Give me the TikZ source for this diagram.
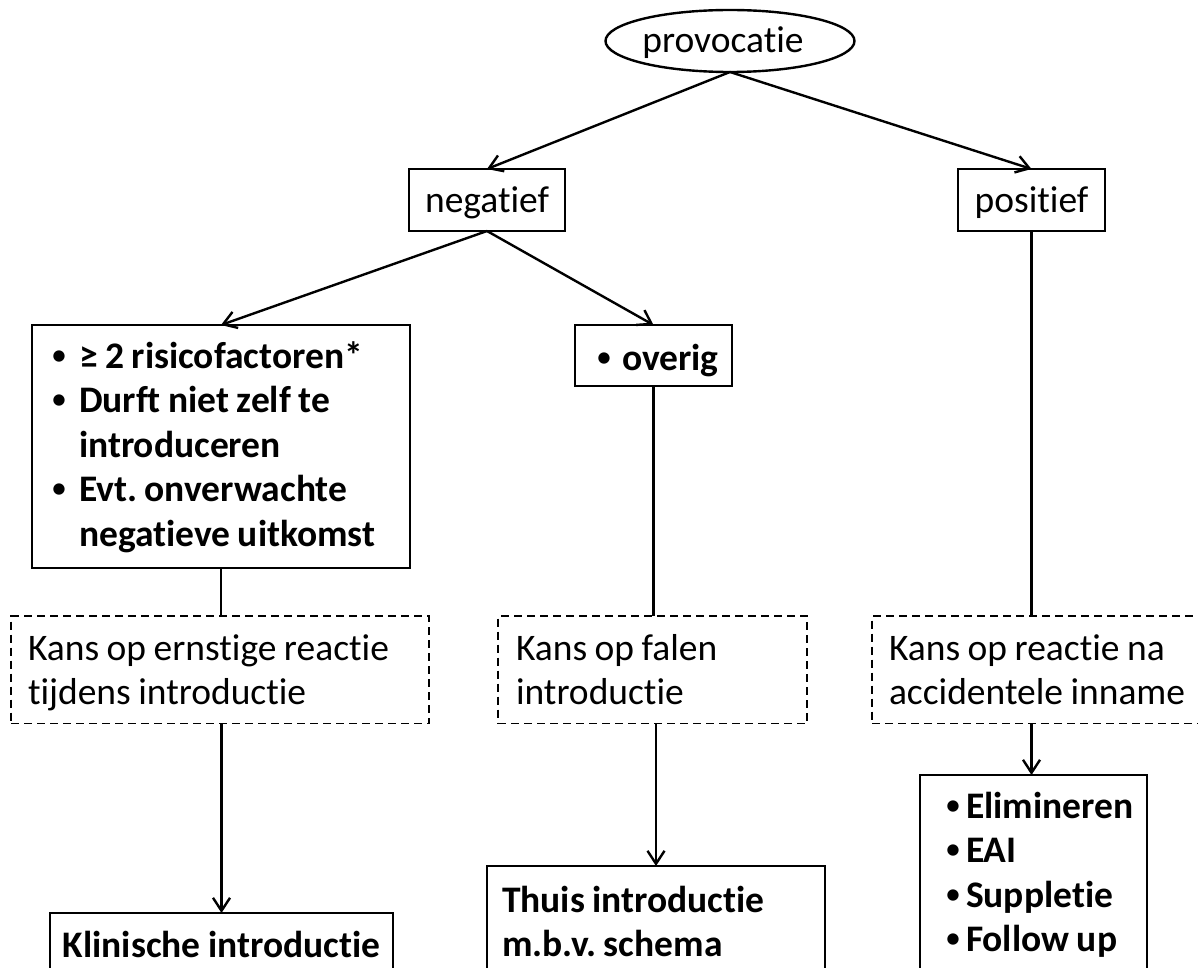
\documentclass[tikz,border=0pt]{standalone}
\usepackage{fontspec}
\setmainfont{Carlito}[Ligatures=NoCommon]
\usetikzlibrary{arrows.meta,shapes.geometric}
\newcommand{\bul}[1]{\makebox[#1][l]{\raisebox{3pt}{\fontsize{32}{32}\selectfont\mdseries •}}}
\newcommand{\topstrut}[1]{\spaceskip 7.5pt\relax\xspaceskip 7.5pt\relax\rule{0pt}{#1}}
\newcommand{\botstrut}[1]{\rule[-#1]{0pt}{#1}}
\frenchspacing
\begin{document}
\frenchspacing
\begin{tikzpicture}[x=1pt,y=-1pt,
  every node/.style={font=\fontsize{37.5}{44.5}\selectfont, inner sep=0pt, outer sep=0pt},
  boldtext/.style={font=\fontsize{37.5}{44.5}\selectfont\bfseries},
  solidbox/.style={draw, line width=2.4pt, anchor=north west},
  dashbox/.style={draw, line width=1.8pt, dash pattern=on 8pt off 5pt, anchor=north west},
  conn/.style={line width=2.4pt},
  arr/.style={line width=2.4pt, -{Straight Barb[length=13pt,width=17pt]}},
]
\useasboundingbox (0,0) rectangle (1198,968);
\clip (0,0) rectangle (1198,968);
\fill[white] (0,0) rectangle (1198,968);

% top
\node[draw, ellipse, line width=2.4pt, minimum width=249pt, minimum height=62pt,
      text height=26pt, text depth=2pt] (prov) at (730,41) {provocatie\hspace*{14pt}};

\node[solidbox, minimum width=156pt, text height=44pt, text depth=18pt] (neg) at (409,169) {negatief};
\node[solidbox, minimum width=147pt, text height=44pt, text depth=18pt] (pos) at (958,169) {positief};

% second level
\node[solidbox, boldtext, inner xsep=19pt, text width=340pt, align=left] (lb) at (32,325)
  {\topstrut{43pt}\mbox{\bul{28pt}≥ 2 risicofactoren*}\\
   \mbox{\bul{28pt}Durft niet zelf te}\\
   \mbox{\hspace*{28pt}introduceren}\\
   \mbox{\bul{28pt}Evt. onverwachte}\\
   \mbox{\hspace*{28pt}negatieve uitkomst}\botstrut{22pt}};

\node[solidbox, boldtext, inner xsep=21pt, text width=115pt, align=left] (ovr) at (575,325)
  {\topstrut{45pt}\mbox{\bul{26pt}overig}\botstrut{16pt}};

% dashed boxes
\node[dashbox, inner xsep=17pt, text width=384pt, align=left] (dl) at (11,616)
  {\topstrut{44pt}\mbox{Kans op ernstige reactie}\\\mbox{tijdens introductie}\botstrut{19pt}};
\node[dashbox, inner xsep=18pt, text width=273pt, align=left] (dm) at (498,616)
  {\topstrut{44pt}\mbox{Kans op falen}\\\mbox{introductie}\botstrut{19pt}};
\node[dashbox, inner xsep=17pt, text width=326pt, align=left] (dr) at (872,616)
  {\topstrut{44pt}\mbox{Kans op reactie na}\\\mbox{accidentele inname}\botstrut{19pt}};

% bottom boxes
\node[solidbox, boldtext, text width=343pt, align=center] (kl) at (50,913)
  {\topstrut{44pt}\mbox{Klinische introductie}\botstrut{22pt}};
\node[solidbox, boldtext, inner xsep=15pt, text width=308pt, align=left] (th) at (487,866)
  {\topstrut{46pt}\mbox{Thuis introductie}\\\mbox{m.b.v. schema}\botstrut{22pt}};
\node[solidbox, boldtext, inner xsep=25pt, text width=177pt, align=left] (rb) at (920,775)
  {\topstrut{43pt}\mbox{\bul{21pt}Elimineren}\\
   \mbox{\bul{21pt}EAI}\\
   \mbox{\bul{21pt}Suppletie}\\
   \mbox{\bul{21pt}Follow up}\botstrut{22pt}};

% connectors
\draw[arr] (prov.south) -- (neg.north);
\draw[arr] (prov.south) -- (pos.north);
\draw[arr] (neg.south) -- (lb.north);
\draw[arr] (neg.south) -- (ovr.north);
\draw[conn] (lb.south) -- (lb.south |- dl.north);
\draw[conn] (ovr.south) -- (ovr.south |- dm.north);
\draw[conn] (pos.south) -- (pos.south |- dr.north);
\draw[arr] (kl.north |- dl.south) -- (kl.north);
\draw[arr] (th.north |- dm.south) -- (th.north);
\draw[arr] (pos.south |- dr.south) -- (pos.south |- rb.north);
\end{tikzpicture}
\end{document}
